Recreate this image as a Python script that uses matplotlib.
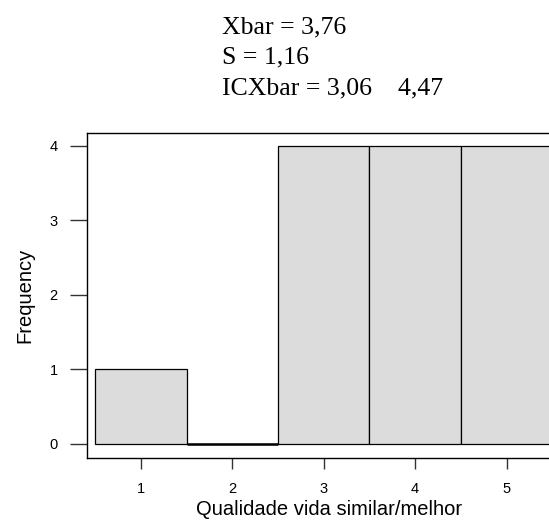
import matplotlib
matplotlib.use("Agg")
import matplotlib.pyplot as plt

plt.rcParams["font.family"] = ["Liberation Sans", "DejaVu Sans"]

categories = [1, 2, 3, 4, 5]
frequencies = [1, 0, 4, 4, 4]
yticks = [0, 1, 2, 3, 4]
xlabel = "Qualidade vida similar/melhor"
ylabel = "Frequency"
stats_lines = ["Xbar = 3,76", "S = 1,16", "ICXbar = 3,06    4,47"]

W, H = 549, 523
fig = plt.figure(figsize=(W / 100, H / 100), dpi=100)

xlim = (0.41, 5.7)
ylim = (-0.19, 4.18)
left_px, top_px, bottom_px = 87, 132.5, 458
ppu = 91.4
right_px = left_px + (xlim[1] - xlim[0]) * ppu
ax = fig.add_axes([left_px / W, 1 - bottom_px / H, (right_px - left_px) / W, (bottom_px - top_px) / H])
ax.set_xlim(*xlim)
ax.set_ylim(*ylim)

ax.bar(categories, frequencies, width=1.0, color="#DCDCDC", edgecolor="black", linewidth=0.9)
for c, f in zip(categories, frequencies):
    if f == 0:
        ax.plot([c - 0.5, c + 0.5], [0, 0], color="black", linewidth=1.8, solid_capstyle="butt")

for s in ax.spines.values():
    s.set_linewidth(1.0)
ax.set_xticks(categories)
ax.set_yticks(yticks)
ax.tick_params(axis="y", length=12, width=1.0, labelsize=10.5, pad=9, colors="#333333", labelcolor="black")
ax.tick_params(axis="x", length=8, width=1.0, labelsize=10.5, pad=9, colors="#333333", labelcolor="black")
ax.set_xlabel(xlabel, fontsize=14.5, labelpad=3)
ax.set_ylabel(ylabel, fontsize=14.5, labelpad=11)

baselines = [33, 63.5, 94]
for t, y in zip(stats_lines, baselines):
    fig.text(221.7 / W, 1 - y / H, t, fontsize=18.5, family="Liberation Serif", va="baseline", ha="left")

fig.savefig("out.png", dpi=100)
